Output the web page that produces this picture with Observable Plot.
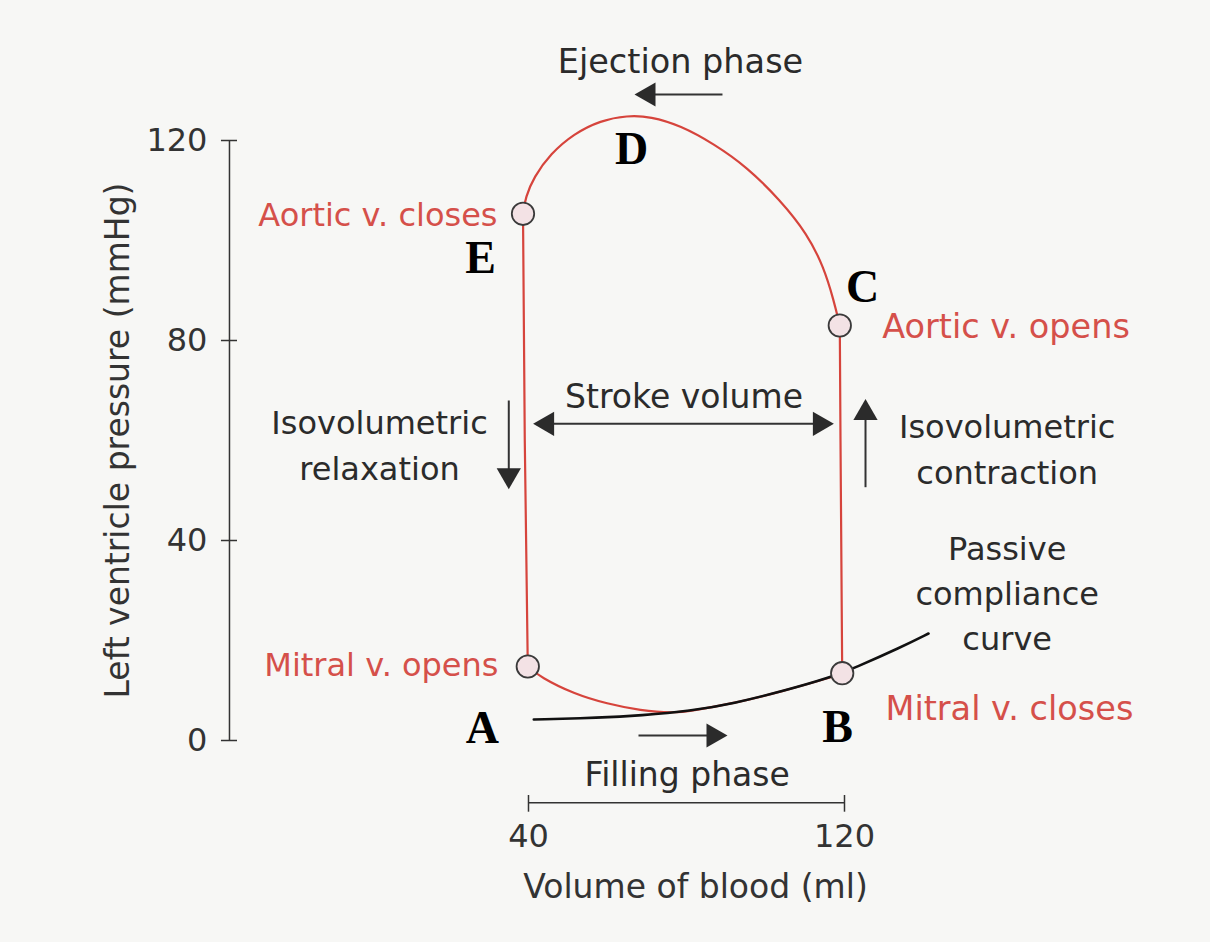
<!DOCTYPE html>
<html><head><meta charset="utf-8">
<script src="https://cdn.jsdelivr.net/npm/d3@7"></script>
<script src="https://cdn.jsdelivr.net/npm/@observablehq/plot@0.6"></script>
<style>
html,body{margin:0;padding:0;background:#f7f7f5;}
#chart svg{display:block;}
</style></head><body><div id="chart"></div>
<script>
// ---- Data (volume in ml, pressure in mmHg) ----
const topArcVolume   = [118.81,117.29,114.76,110.56,103.8,95.37,86.91,78.48,70.89,64.99,58.23,51.47,45.57,41.34,39.24,38.61];
const topArcPressure = [83.0,88,94.66,101.34,108,114.66,119.34,123,124.8,125,124,121.34,117.34,112.66,108.66,105.34];
const bottomArcVolume   = [39.82,43.04,51.47,59.92,68.35,76.71,81.01,91.9,104.56,116.46,119.42];
const bottomArcPressure = [14.8,12.66,9.34,7.34,6.0,5.5,5.9,7.4,9.9,12.6,13.46];
const isoRelaxVolume   = [38.61,39.06,39.82];
const isoRelaxPressure = [105.34,60,14.8];
const isoContractVolume   = [119.42,118.99,118.81];
const isoContractPressure = [13.46,60,83.0];
const complianceVolume   = [41.34,58.23,68.35,81.01,91.9,104.56,116.46,122.78,134.18,141.27];
const compliancePressure = [4.2,4.55,5.0,5.9,7.4,9.9,12.6,14.6,18.6,21.4];

const valveNames    = ["Aortic v. closes","Aortic v. opens","Mitral v. opens","Mitral v. closes"];
const valveVolume   = [38.61,118.81,39.82,119.42];
const valvePressure = [105.34,83.0,14.8,13.46];
const valveLabelVolume   = [32.15,129.54,32.41,130.38];
const valueLabelPressure = [105,82.66,15,6.34];
const valveLabelAnchor   = ["end","start","end","start"];

const pointLetters  = ["A","B","C","D","E"];
const letterVolume  = [28.35,118.23,124.56,66.08,27.85];
const letterPressure= [2.4,2.6,90.6,118.2,96.4];

const noteTexts    = ["Ejection phase","Stroke volume","Isovolumetric\nrelaxation","Isovolumetric\ncontraction","Passive\ncompliance\ncurve","Filling phase"];
const noteVolume   = [78.48,79.37,2.28,161.19,161.19,80.18];
const notePressure = [136.6,69.6,59.6,58.84,30,-6];
const noteSize     = [33.5,33,32,32,32,33];

const shaftFromV = [89.11,67.85,44.71,35.01,125.32];
const shaftFromP = [129.2,1.0,63.34,68,50.66];
const shaftToV   = [70.38,86.84,113.77,35.01,125.32];
const shaftToP   = [129.2,1.0,63.34,53.06,65.48];
const headV     = [70.38,86.84,44.71,113.77,35.01,125.32];
const headP     = [129.2,1.0,63.34,63.34,53.06,65.48];
const headAngle = [-90,90,-90,90,180,0];

const yTicks = [0,40,80,120];
const xTicks = [40,120];
const yTitle = "Left ventricle pressure (mmHg)";
const xTitle = "Volume of blood (ml)";

// ---- Layout config ----
const X_DOMAIN = [-93.67, 212.66];
const Y_DOMAIN = [-40.4, 148];
const AXV = -35.7, TK = 2.03;
const XRULE_P = -12.46, XTICK_P = [-11, -14.34], XLABEL_P = -19.34;

const zip = (a, b) => a.map((v, i) => ({v, p: b[i]}));
const RED = "#d6443c", INK = "#333", FS = 32;
const valveRows = valveNames.map((n, i) => ({n, v: valveLabelVolume[i], p: valueLabelPressure[i], a: valveLabelAnchor[i]}));

const chart = Plot.plot({
  width: 1210, height: 942,
  marginLeft: 0, marginRight: 0, marginTop: 0, marginBottom: 0,
  x: {domain: X_DOMAIN, axis: null},
  y: {domain: Y_DOMAIN, axis: null},
  style: {fontFamily: "DejaVu Sans", background: "#f7f7f5", color: INK},
  marks: [
    // y axis
    Plot.ruleX([AXV], {y1: 0, y2: 120, stroke: INK, strokeWidth: 1.5}),
    Plot.ruleY(yTicks, {y: d => d, x1: AXV - TK, x2: AXV + TK, stroke: INK, strokeWidth: 1.5}),
    Plot.text(yTicks, {x: AXV, y: d => d, text: d => String(d), textAnchor: "end", dx: -22, fontSize: FS, fill: INK}),
    Plot.text([yTitle], {x: -63.8, y: 60, text: d => d, rotate: -90, fontSize: 33, fill: INK}),
    // x ruler
    Plot.ruleY([XRULE_P], {y: d => d, x1: 40, x2: 120, stroke: INK, strokeWidth: 1.5}),
    Plot.ruleX(xTicks, {x: d => d, y1: XTICK_P[0], y2: XTICK_P[1], stroke: INK, strokeWidth: 1.5}),
    Plot.text(xTicks, {x: d => d, y: XLABEL_P, text: d => String(d), fontSize: FS, fill: INK}),
    Plot.text([xTitle], {x: 82.28, y: -29.34, text: d => d, fontSize: 33, fill: INK}),
    // loop
    Plot.line(zip(topArcVolume, topArcPressure), {x: "v", y: "p", curve: "basis", stroke: RED, strokeWidth: 2.2}),
    Plot.line(zip(bottomArcVolume, bottomArcPressure), {x: "v", y: "p", curve: "basis", stroke: RED, strokeWidth: 2.2}),
    Plot.line(zip(isoRelaxVolume, isoRelaxPressure), {x: "v", y: "p", stroke: RED, strokeWidth: 2.2}),
    Plot.line(zip(isoContractVolume, isoContractPressure), {x: "v", y: "p", stroke: RED, strokeWidth: 2.2}),
    Plot.line(zip(complianceVolume, compliancePressure), {x: "v", y: "p", curve: "basis", stroke: "#111", strokeWidth: 2.6}),
    // valve points
    Plot.dot(valveNames.map((n, i) => ({n, v: valveVolume[i], p: valvePressure[i]})), {x: "v", y: "p", r: 11.2, fill: "#f3e2e5", stroke: "#3a3a3a", strokeWidth: 1.8}),
    Plot.text(valveRows.filter(d => d.a === "end"), {x: "v", y: "p", text: "n", textAnchor: "end", fontSize: FS, fill: "#d5504a"}),
    Plot.text(valveRows.filter(d => d.a === "start"), {x: "v", y: "p", text: "n", textAnchor: "start", fontSize: 33.5, fill: "#d5504a"}),
    // annotations
    Plot.text(noteTexts.map((t, i) => ({t, v: noteVolume[i], p: notePressure[i], s: noteSize[i]})), {x: "v", y: "p", text: "t", fontSize: d => d.s, lineHeight: 1.42, fill: "#2b2b2b"}),
    Plot.link(shaftFromV.map((v, i) => ({x1: v, y1: shaftFromP[i], x2: shaftToV[i], y2: shaftToP[i]})), {x1: "x1", y1: "y1", x2: "x2", y2: "y2", stroke: INK, strokeWidth: 2}),
    Plot.dot(headV.map((v, i) => ({v, p: headP[i], a: headAngle[i]})), {x: "v", y: "p", symbol: "triangle", r: 9, rotate: "a", fill: "#2b2b2b", stroke: "none"}),
    // letters
    Plot.text(pointLetters.map((t, i) => ({t, v: letterVolume[i], p: letterPressure[i]})), {x: "v", y: "p", text: "t", fontFamily: "Liberation Serif", fontWeight: "bold", fontSize: 46, fill: "#000"})
  ]
});
document.getElementById("chart").appendChild(chart);
</script>
</body></html>
